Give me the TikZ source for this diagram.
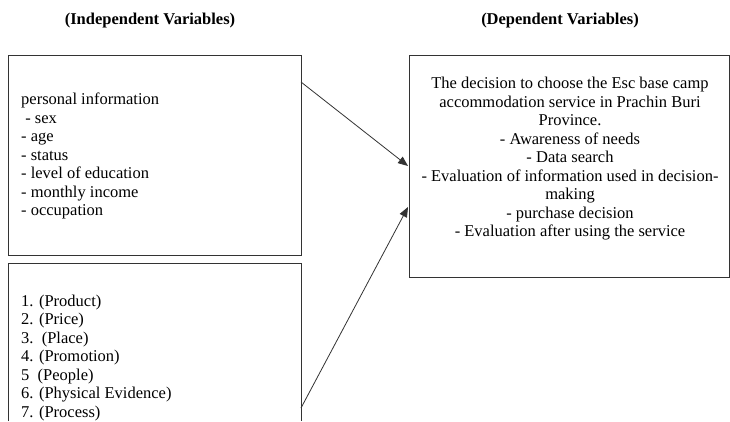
\documentclass[tikz,border=0pt]{standalone}
\usepackage{fontspec}
\setmainfont{Liberation Serif}
\usetikzlibrary{arrows.meta,calc}
\begin{document}
\begin{tikzpicture}[x=1pt,y=-1pt,
  frame/.style={draw=black!80,line width=0.8pt},
  txt/.style={inner sep=0pt,font=\fontsize{16.5}{18.5}\selectfont},
  ttl/.style={inner sep=0pt,font=\fontsize{16.5}{18.5}\selectfont\bfseries},
  conn/.style={draw=black!80,line width=0.8pt,-{Triangle[length=10pt,width=8pt]}}]
\useasboundingbox[fill=white] (0,0) rectangle (730,421);
% titles
\node[ttl] (t1) at (150,21) {(Independent Variables)};
\node[ttl] (t2) at (560,21) {(Dependent Variables)};
% boxes
\node[frame,inner sep=0pt,anchor=north west,minimum width=293pt,minimum height=200pt] (b1) at (8,55) {};
\node[frame,inner sep=0pt,anchor=north west,minimum width=320pt,minimum height=222pt] (b3) at (409,55) {};
\coordinate (b2sw) at (8,421);
\coordinate (b2nw) at (8,263);
\coordinate (b2ne) at (301,263);
\coordinate (b2se) at (301,421);
\draw[frame] (b2sw) -- (b2nw) -- (b2ne) -- (b2se);
% texts
\node[txt,anchor=north west,align=left] (x1) at (21,93) {personal information\\
\ - sex\\- age\\- status\\- level of education\\- monthly income\\- occupation};
\node[txt,anchor=north west,align=left] (x2) at (21,294.5) {1. (Product)\\2. (Price)\\3.\ \ (Place)\\4. (Promotion)\\5\ \ (People)\\6. (Physical Evidence)\\7. (Process)};
\node[txt,anchor=north,align=center] (x3) at (570,77) {The decision to choose the Esc base camp\\
accommodation service in Prachin Buri\\Province.\\- Awareness of needs\\- Data search\\- Evaluation of information used in decision-\\making\\- purchase decision\\- Evaluation after using the service};
% connectors
\coordinate (a1s) at (301,82);
\coordinate (a1e) at (408,166);
\coordinate (a2s) at (301,408);
\coordinate (a2e) at (408,207);
\draw[conn] (a1s) -- (a1e);
\draw[conn] (a2s) -- (a2e);
\end{tikzpicture}
\end{document}
